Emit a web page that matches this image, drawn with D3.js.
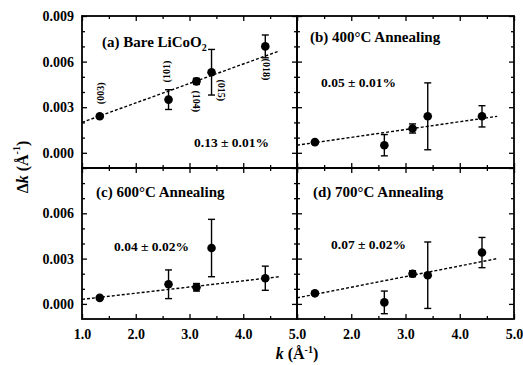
<!DOCTYPE html>
<html>
<head>
<meta charset="utf-8">
<script src="https://cdn.jsdelivr.net/npm/d3@7"></script>
<style>
  body { margin: 0; background: #fff; }
  text { font-family: "Liberation Serif", "DejaVu Serif", serif; font-weight: bold; fill: #000; }
</style>
</head>
<body>
<div id="vis"></div>
<script>
// k positions of the five reflections, same in every panel
var kVals = [1.33, 2.61, 3.13, 3.41, 4.41];
var millerLabels = ["(003)", "(101)", "(104)", "(015)", "(018)"];

var panelNames = ["(a) Bare LiCoO", "(b) 400°C Annealing", "(c) 600°C Annealing", "(d) 700°C Annealing"];
var strainLabels = ["0.13 ± 0.01%", "0.05 ± 0.01%", "0.04 ± 0.02%", "0.07 ± 0.02%"];

var bareDk  = [0.0024, 0.0035, 0.0047, 0.0053, 0.0070];
var bareErr = [0.0001, 0.00065, 0.0002, 0.0015, 0.00075];
var a400Dk  = [0.0007, 0.0005, 0.0016, 0.0024, 0.0024];
var a400Err = [0.0001, 0.0007, 0.0003, 0.0022, 0.0007];
var a600Dk  = [0.0004, 0.0013, 0.0011, 0.0037, 0.0017];
var a600Err = [0.0001, 0.00095, 0.00025, 0.0019, 0.0008];
var a700Dk  = [0.0007, 0.0001, 0.0020, 0.0019, 0.0034];
var a700Err = [0.0001, 0.00075, 0.0002, 0.0022, 0.0010];

// linear fits: [k, dk] at start and end
var fitStart = [[1.0, 0.0020], [1.0, 0.0005], [1.0, 0.0003], [1.0, 0.0004]];
var fitEnd   = [[4.67, 0.0067], [4.69, 0.0024], [4.67, 0.0018], [4.69, 0.0030]];

var xMajor = [1, 2, 3, 4, 5];
var xMinor = [1.5, 2.5, 3.5, 4.5];
var yMajor = [0, 0.003, 0.006, 0.009];
var yMinor = [0.001, 0.002, 0.004, 0.005, 0.007, 0.008];

var width = 523, height = 365;
var svg = d3.select("#vis").append("svg")
    .attr("width", width)
    .attr("height", height);

var colX = [82, 297, 514];
var rowY = [16, 168, 319];

var seriesDk = [bareDk, a400Dk, a600Dk, a700Dk];
var seriesErr = [bareErr, a400Err, a600Err, a700Err];

// layout tweaks for text inside each panel
var titlePos = [[20, 31], [13, 26], [14, 29], [16, 29]];
var strainPos = [[112, 131], [24, 71], [32, 83], [34, 81]];

for (var p = 0; p < 4; p++) {
  var col = p % 2, row = Math.floor(p / 2);
  var x = d3.scaleLinear().domain([1, 5]).range([colX[col], colX[col + 1]]);
  var y = d3.scaleLinear().domain([-0.001, 0.009]).range([rowY[row + 1], rowY[row]]);
  var g = svg.append("g");
  var px0 = colX[col], py0 = rowY[row];

  // ticks, all pointing in
  var axes = [
    [d3.axisBottom(x).tickValues(xMajor).tickSize(-5), "translate(0," + y.range()[0] + ")"],
    [d3.axisBottom(x).tickValues(xMinor).tickSize(-3), "translate(0," + y.range()[0] + ")"],
    [d3.axisTop(x).tickValues(xMajor).tickSize(-5), "translate(0," + y.range()[1] + ")"],
    [d3.axisTop(x).tickValues(xMinor).tickSize(-3), "translate(0," + y.range()[1] + ")"],
    [d3.axisLeft(y).tickValues(yMajor).tickSize(-5), "translate(" + x.range()[0] + ",0)"],
    [d3.axisLeft(y).tickValues(yMinor).tickSize(-3), "translate(" + x.range()[0] + ",0)"],
    [d3.axisRight(y).tickValues(yMajor).tickSize(-5), "translate(" + x.range()[1] + ",0)"],
    [d3.axisRight(y).tickValues(yMinor).tickSize(-3), "translate(" + x.range()[1] + ",0)"]
  ];
  axes.forEach(function(a) {
    var ax = g.append("g").attr("transform", a[1]).call(a[0].tickFormat(""));
    ax.select(".domain").remove();
    ax.selectAll("text").remove();
    ax.selectAll("line").attr("stroke", "#000").attr("stroke-width", 1.3);
  });

  // tick labels
  if (row === 1) {
    var xl = g.append("g").attr("transform", "translate(0," + y.range()[0] + ")")
      .call(d3.axisBottom(x).tickValues(col === 0 ? xMajor : xMajor.slice(1)).tickSize(0).tickPadding(10).tickFormat(d3.format(".1f")));
    xl.select(".domain").remove();
    xl.selectAll("text").style("font-size", "14px").attr("font-family", null);
  }
  if (col === 0) {
    var yl = g.append("g").attr("transform", "translate(" + x.range()[0] + ",0)")
      .call(d3.axisLeft(y).tickValues(row === 0 ? yMajor : yMajor.slice(0, 3)).tickSize(0).tickPadding(8).tickFormat(d3.format(".3f")));
    yl.select(".domain").remove();
    yl.selectAll("text").style("font-size", "14px").attr("font-family", null);
  }

  // frame
  g.append("rect")
    .attr("x", x.range()[0]).attr("y", y.range()[1])
    .attr("width", x.range()[1] - x.range()[0])
    .attr("height", y.range()[0] - y.range()[1])
    .attr("fill", "none").attr("stroke", "#000").attr("stroke-width", 1.8);

  // fit line
  g.append("line")
    .attr("x1", x(fitStart[p][0])).attr("y1", y(fitStart[p][1]))
    .attr("x2", x(fitEnd[p][0])).attr("y2", y(fitEnd[p][1]))
    .attr("stroke", "#000").attr("stroke-width", 1.4)
    .attr("stroke-dasharray", "3,2");

  var pts = kVals.map(function(k, i) {
    return { k: k, dk: seriesDk[p][i], err: seriesErr[p][i] };
  });

  var bars = g.selectAll(".eb").data(pts).enter().append("g");
  bars.append("line")
    .attr("x1", function(d) { return x(d.k); }).attr("x2", function(d) { return x(d.k); })
    .attr("y1", function(d) { return y(d.dk - d.err); })
    .attr("y2", function(d) { return y(d.dk + d.err); })
    .attr("stroke", "#000").attr("stroke-width", 1.4);
  [-1, 1].forEach(function(s) {
    bars.append("line")
      .attr("x1", function(d) { return x(d.k) - 3.5; })
      .attr("x2", function(d) { return x(d.k) + 3.5; })
      .attr("y1", function(d) { return y(d.dk + s * d.err); })
      .attr("y2", function(d) { return y(d.dk + s * d.err); })
      .attr("stroke", "#000").attr("stroke-width", 1.4);
  });
  g.selectAll(".pt").data(pts).enter().append("circle")
    .attr("cx", function(d) { return x(d.k); })
    .attr("cy", function(d) { return y(d.dk); })
    .attr("r", 4.3)
    .attr("fill", "#000");

  // panel title
  var t = g.append("text")
    .attr("x", px0 + titlePos[p][0]).attr("y", py0 + titlePos[p][1])
    .style("font-size", "15px")
    .text(panelNames[p]);
  if (p === 0) {
    t.append("tspan").attr("dy", 4).style("font-size", "10px").text("2");
  }

  g.append("text")
    .attr("x", px0 + strainPos[p][0]).attr("y", py0 + strainPos[p][1])
    .style("font-size", "13.5px")
    .text(strainLabels[p]);

  // Miller indices next to bare points
  if (p === 0) {
    var millerOff = [[1, -23, -90], [-2, -28, -90], [0, 20, 90], [10, 18, 90], [1, 23, 90]];
    millerLabels.forEach(function(m, i) {
      var mx = x(kVals[i]) + millerOff[i][0], my = y(bareDk[i]) + millerOff[i][1];
      g.append("text")
        .attr("transform", "translate(" + mx + "," + my + ") rotate(" + millerOff[i][2] + ")")
        .attr("text-anchor", "middle")
        .attr("dominant-baseline", "central")
        .style("font-size", "10px")
        .text(m);
    });
  }
}

// axis titles
var yt = svg.append("text")
  .attr("transform", "translate(22,167) rotate(-90)")
  .attr("text-anchor", "middle")
  .attr("dominant-baseline", "central")
  .style("font-size", "16px");
yt.append("tspan").text("Δ");
yt.append("tspan").style("font-style", "italic").text("k");
yt.append("tspan").text(" (Å");
yt.append("tspan").attr("dy", -6).style("font-size", "10px").text("-1");
yt.append("tspan").attr("dy", 6).text(")");

var xt = svg.append("text")
  .attr("x", 297).attr("y", 359)
  .attr("text-anchor", "middle")
  .style("font-size", "16px");
xt.append("tspan").style("font-style", "italic").text("k");
xt.append("tspan").text(" (Å");
xt.append("tspan").attr("dy", -6).style("font-size", "10px").text("-1");
xt.append("tspan").attr("dy", 6).text(")");
</script>
</body>
</html>
